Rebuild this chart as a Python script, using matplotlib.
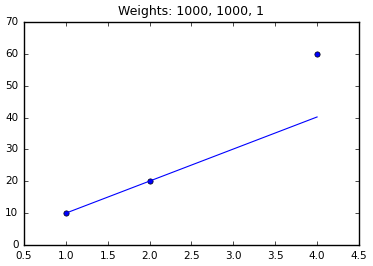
import matplotlib
matplotlib.use("Agg")
from matplotlib import pyplot as plt

# data points and the weighted fit line
x_points = [1, 2, 4]
y_points = [10, 20, 60]
weights = [1000, 1000, 1]
fit_x = [1, 4]
fit_y = [10.0, 40.2]

plt.style.use('classic')
plt.rcParams['font.family'] = 'DejaVu Sans'

fig = plt.figure(figsize=(3.73, 2.66), dpi=100)
ax = fig.add_axes([0.0643, 0.079, 0.898, 0.838])
ax.plot(x_points, y_points, 'bo', markersize=3.8)
ax.plot(fit_x, fit_y, 'b-', linewidth=0.8)
ax.set_xlim(0.5, 4.5)
ax.set_ylim(0, 70)
ax.tick_params(labelsize=7.5, length=3)
ax.set_title("Weights: %d, %d, %d" % tuple(weights), fontsize=9)
fig.savefig("out.png", dpi=100)
